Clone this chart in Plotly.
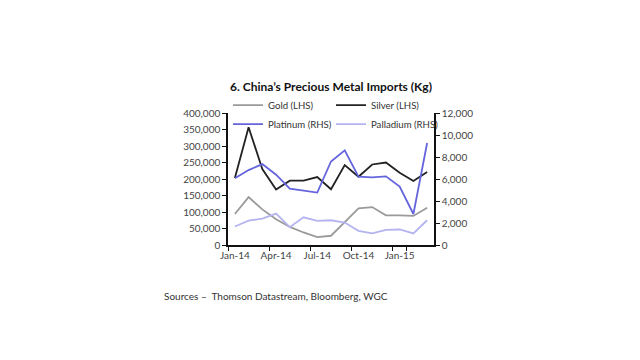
import plotly.graph_objects as go

months = ["Jan-14", "Feb-14", "Mar-14", "Apr-14", "May-14", "Jun-14", "Jul-14",
          "Aug-14", "Sep-14", "Oct-14", "Nov-14", "Dec-14", "Jan-15", "Feb-15", "Mar-15"]
tick_labels = ["Jan-14", "Apr-14", "Jul-14", "Oct-14", "Jan-15"]

gold = [94000, 145000, 108000, 78000, 55000, 38000, 24000, 28000, 69000, 111000,
        115000, 90000, 90000, 88000, 113000]
silver = [203000, 357000, 230000, 168000, 195000, 195000, 206000, 169000, 242000,
          207000, 244000, 250000, 219000, 194000, 221000]
platinum = [6060, 6810, 7350, 6390, 5130, 4980, 4770, 7590, 8610, 6210, 6150, 6240,
            5310, 2820, 9270]
palladium = [1680, 2220, 2400, 2850, 1620, 2520, 2190, 2250, 2040, 1290, 1050, 1380,
             1410, 1050, 2250]

fig = go.Figure()
fig.add_trace(go.Scatter(x=months, y=gold, name="Gold (LHS)", mode="lines",
                         line=dict(color="#9a9a9a", width=1.8), legend="legend"))
fig.add_trace(go.Scatter(x=months, y=silver, name="Silver (LHS)", mode="lines",
                         line=dict(color="#222222", width=1.8), legend="legend2"))
fig.add_trace(go.Scatter(x=months, y=platinum, name="Platinum (RHS)", mode="lines",
                         line=dict(color="#6464dc", width=1.8), yaxis="y2",
                         legend="legend"))
fig.add_trace(go.Scatter(x=months, y=palladium, name="Palladium (RHS)", mode="lines",
                         line=dict(color="#b4b4f0", width=1.8), yaxis="y2",
                         legend="legend2"))

tickfont = dict(family="Lato, sans-serif", size=10, color="#444444")
legfont = dict(family="Lato, sans-serif", size=9.6, color="#333333")

fig.update_layout(
    width=640, height=360,
    margin=dict(l=220, r=214, t=105, b=123, autoexpand=False),
    paper_bgcolor="white", plot_bgcolor="white",
    title=dict(text="<b>6. China\u2019s Precious Metal Imports (Kg)</b>",
               x=0.5, xref="paper", xanchor="center", y=0.78, yanchor="middle",
               font=dict(family="Lato, sans-serif", size=12, color="#111111")),
    showlegend=True,
    legend=dict(orientation="v", x=0.0, xanchor="left", y=1.17, yanchor="top",
                font=legfont, bgcolor="rgba(0,0,0,0)", itemwidth=30,
                tracegroupgap=0),
    legend2=dict(orientation="v", x=0.5, xanchor="left", y=1.17, yanchor="top",
                 font=legfont, bgcolor="rgba(0,0,0,0)", itemwidth=30,
                 tracegroupgap=0),
    xaxis=dict(type="category", categoryorder="array", categoryarray=months,
               tickvals=tick_labels, ticktext=tick_labels, tickson="boundaries",
               ticks="outside", ticklen=4, tickcolor="#111", showline=True,
               linecolor="#111", linewidth=1.5, showgrid=False, zeroline=False,
               tickfont=tickfont, tickangle=0, automargin=False, range=[-0.5, 14.5]),
    yaxis=dict(range=[0, 400000], dtick=50000, tickformat=",d", ticks="outside",
               ticklen=4, tickcolor="#111", showline=True, linecolor="#111",
               linewidth=1.5, showgrid=False, zeroline=False, tickfont=tickfont,
               automargin=False),
    yaxis2=dict(range=[0, 12000], dtick=2000, tickformat=",d", ticks="outside",
                ticklen=4, tickcolor="#111", showline=True, linecolor="#111",
                linewidth=1.5, showgrid=False, zeroline=False, tickfont=tickfont,
                overlaying="y", side="right", automargin=False),
    annotations=[dict(text="Sources \u2013  Thomson Datastream, Bloomberg, WGC",
                      xref="paper", yref="paper", x=-0.32, y=-0.386,
                      xanchor="left", yanchor="middle", showarrow=False,
                      font=dict(family="Lato, sans-serif", size=10, color="#333333"))],
)

fig.write_html("out.html")
